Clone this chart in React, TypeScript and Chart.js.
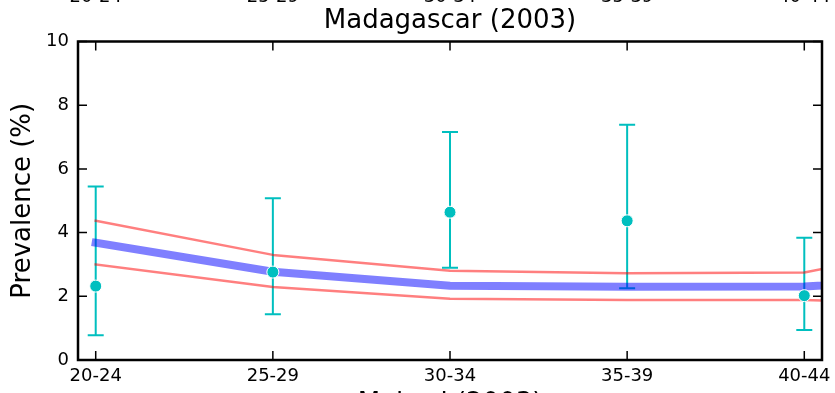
import React, { useEffect, useRef } from "react";
import { Chart, registerables } from "chart.js";

Chart.register(...registerables);

// ---- data ----
const categories = ["20-24", "25-29", "30-34", "35-39", "40-44"];
const categoryIndex = [0, 1, 2, 3, 4];
const observed = [2.32, 2.76, 4.64, 4.37, 2.02];
const observedLower = [0.78, 1.44, 2.9, 2.25, 0.94];
const observedUpper = [5.45, 5.08, 7.16, 7.39, 3.84];
const modelIndex = [0, 1, 2, 3, 4, 5];
const modelMean = [3.68, 2.77, 2.33, 2.3, 2.31, 2.6];
const modelUpper = [4.37, 3.3, 2.8, 2.72, 2.75, 3.85];
const modelLower = [3.0, 2.29, 1.92, 1.88, 1.88, 1.8];
const yTicks = [0, 2, 4, 6, 8, 10];
const titleText = "Madagascar (2003)";
const nextTitleText = "Malawi (2003)";
const yAxisTitle = "Prevalence (%)";

const FONT = "'DejaVu Sans', sans-serif";
const TEAL = "#00bfbf";

const errorBarPlugin = {
  id: "errorBars",
  beforeDatasetsDraw(chart: any) {
    const { ctx, scales } = chart;
    const x = scales.x;
    const y = scales.y;
    ctx.save();
    ctx.strokeStyle = TEAL;
    ctx.lineWidth = 2;
    categoryIndex.forEach((c, i) => {
      const px = x.getPixelForValue(c);
      const lo = y.getPixelForValue(observedLower[i]);
      const hi = y.getPixelForValue(observedUpper[i]);
      ctx.beginPath();
      ctx.moveTo(px, lo);
      ctx.lineTo(px, hi);
      ctx.moveTo(px - 8, lo);
      ctx.lineTo(px + 8, lo);
      ctx.moveTo(px - 8, hi);
      ctx.lineTo(px + 8, hi);
      ctx.stroke();
    });
    ctx.restore();
  },
};

const framePlugin = {
  id: "frame",
  afterDatasetsDraw(chart: any) {
    const { ctx, chartArea, scales } = chart;
    const { left, right, top, bottom } = chartArea;
    const x = scales.x;
    const y = scales.y;
    ctx.save();
    ctx.strokeStyle = "#000";
    ctx.lineWidth = 1.5;
    const tl = 9;
    ctx.beginPath();
    categoryIndex.forEach((c) => {
      const px = x.getPixelForValue(c);
      ctx.moveTo(px, bottom);
      ctx.lineTo(px, bottom - tl);
      ctx.moveTo(px, top);
      ctx.lineTo(px, top + tl);
    });
    yTicks.forEach((v) => {
      const py = y.getPixelForValue(v);
      ctx.moveTo(left, py);
      ctx.lineTo(left + tl, py);
      ctx.moveTo(right, py);
      ctx.lineTo(right - tl, py);
    });
    ctx.stroke();
    ctx.lineWidth = 2.5;
    ctx.strokeRect(left, top, right - left, bottom - top);
    ctx.restore();
  },
  afterDraw(chart: any) {
    const { ctx, chartArea, scales } = chart;
    const x = scales.x;
    const cx = (chartArea.left + chartArea.right) / 2;
    ctx.save();
    ctx.fillStyle = "#000";
    ctx.textAlign = "center";
    ctx.textBaseline = "alphabetic";
    ctx.font = `26px ${FONT}`;
    ctx.fillText(titleText, cx, 28);
    ctx.fillText(nextTitleText, cx, 411);
    ctx.font = `18px ${FONT}`;
    categoryIndex.forEach((c) => {
      ctx.fillText(categories[c], x.getPixelForValue(c), 1.5);
    });
    ctx.restore();
  },
};

export default function App() {
  const canvasRef = useRef<HTMLCanvasElement | null>(null);

  useEffect(() => {
    if (!canvasRef.current) return;
    const chart = new Chart(canvasRef.current, {
      type: "line",
      data: {
        datasets: [
          {
            label: "Observed",
            data: categoryIndex.map((c, i) => ({ x: c, y: observed[i] })),
            showLine: false,
            pointRadius: 6,
            pointBorderWidth: 1,
            pointBorderColor: "#ffffff",
            pointBackgroundColor: TEAL,
            order: 0,
            clip: false,
          } as any,
          {
            label: "Model",
            data: modelIndex.map((c, i) => ({ x: c, y: modelMean[i] })),
            borderColor: "rgba(0,0,255,0.5)",
            borderWidth: 8,
            pointRadius: 0,
            borderCapStyle: "square",
            borderJoinStyle: "round",
            tension: 0,
            order: 1,
            clip: 0,
          } as any,
          {
            label: "Upper",
            data: modelIndex.map((c, i) => ({ x: c, y: modelUpper[i] })),
            borderColor: "rgba(255,0,0,0.5)",
            borderWidth: 2.5,
            pointRadius: 0,
            borderCapStyle: "square",
            borderJoinStyle: "round",
            tension: 0,
            order: 2,
            clip: 0,
          } as any,
          {
            label: "Lower",
            data: modelIndex.map((c, i) => ({ x: c, y: modelLower[i] })),
            borderColor: "rgba(255,0,0,0.5)",
            borderWidth: 2.5,
            pointRadius: 0,
            borderCapStyle: "square",
            borderJoinStyle: "round",
            tension: 0,
            order: 2,
            clip: 0,
          } as any,
        ],
      },
      options: {
        animation: false,
        responsive: false,
        devicePixelRatio: 1,
        layout: { padding: { top: 41.5, right: 13, bottom: 0, left: 0 } },
        plugins: {
          legend: { display: false },
          tooltip: { enabled: false },
          title: { display: false },
        },
        scales: {
          x: {
            type: "linear",
            min: -0.1,
            max: 4.1,
            afterBuildTicks: (s: any) => {
              s.ticks = categoryIndex.map((v) => ({ value: v }));
            },
            afterFit: (s: any) => {
              s.height = 33;
              s.paddingLeft = 0;
              s.paddingRight = 0;
            },
            grid: { display: false, drawTicks: false },
            border: { display: false },
            ticks: {
              padding: 6,
              color: "#000",
              font: { family: FONT, size: 18 },
              maxRotation: 0,
              autoSkip: false,
              callback: (v: any) => categories[Math.round(Number(v))] ?? "",
            },
          },
          y: {
            type: "linear",
            min: 0,
            max: 10,
            afterBuildTicks: (s: any) => {
              s.ticks = yTicks.map((v) => ({ value: v }));
            },
            afterFit: (s: any) => {
              s.width = 78;
              s.paddingTop = 0;
              s.paddingBottom = 0;
            },
            grid: { display: false, drawTicks: false },
            border: { display: false },
            title: {
              display: true,
              text: yAxisTitle,
              color: "#000",
              font: { family: FONT, size: 26 },
              padding: { top: 7.5, bottom: 0 },
            },
            ticks: {
              padding: 9,
              color: "#000",
              font: { family: FONT, size: 18 },
              autoSkip: false,
            },
          },
        },
      },
      plugins: [errorBarPlugin, framePlugin],
    } as any);
    return () => chart.destroy();
  }, []);

  return (
    <div style={{ position: "absolute", left: 0, top: 0, width: 835, height: 393 }}>
      <canvas ref={canvasRef} width={835} height={393} style={{ display: "block" }} />
    </div>
  );
}
